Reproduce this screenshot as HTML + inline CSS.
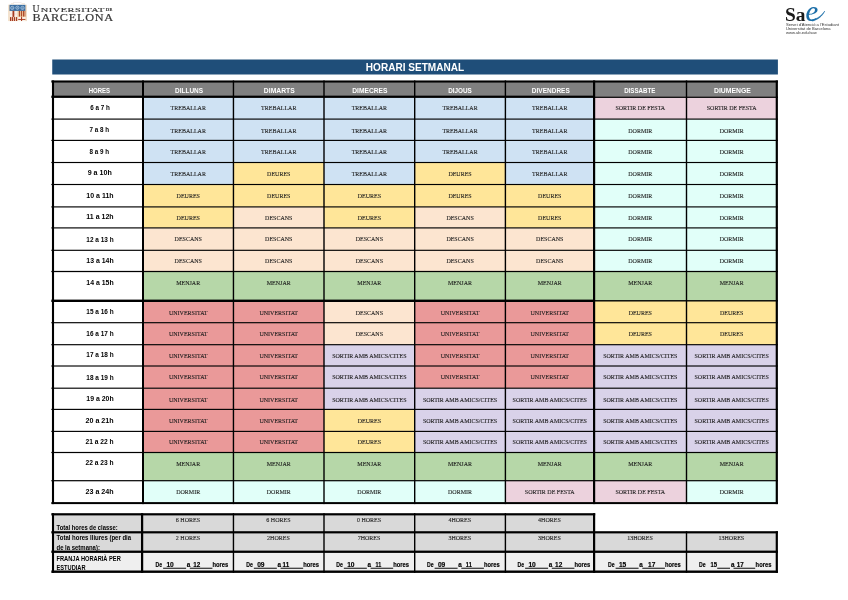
<!DOCTYPE html>
<html lang="ca"><head><meta charset="utf-8"><title>Horari setmanal</title>
<style>
html,body{margin:0;padding:0;background:#fff;}
body{width:848px;height:600px;overflow:hidden;font-family:"Liberation Sans",sans-serif;}
svg{display:block;}
text{text-anchor:middle;}
.ttl{font:bold 10.8px "Liberation Sans",sans-serif;fill:#fff;}
.hd{font:bold 6.7px "Liberation Sans",sans-serif;fill:#fff;}
.hr{font:bold 6.6px "Liberation Sans",sans-serif;fill:#000;}
.ce{font:6px "Liberation Serif",serif;fill:#1c1c1c;stroke:#1c1c1c;stroke-width:0.1px;}
.lb{font:bold 6.35px "Liberation Sans",sans-serif;fill:#000;}
.fr{font:bold 6.3px "Liberation Sans",sans-serif;fill:#000;stroke:#000;stroke-width:0.15px;}
.ub{font-family:"Liberation Serif",serif;fill:#383838;stroke:#383838;stroke-width:0.18px;}
.sa{font:bold 19.4px "Liberation Serif",serif;fill:#1a1a1a;}
.se{font:italic 28.5px "Liberation Serif",serif;fill:#1b6ea8;stroke:#1b6ea8;stroke-width:0.12px;}
.sm{font:3.4px "Liberation Sans",sans-serif;fill:#333;}
</style></head><body>
<svg width="848" height="600" viewBox="0 0 848 600">
<rect x="52.25" y="59.50" width="725.65" height="15.00" fill="#1f4e79"/>
<text x="415.00" y="71.00" class="ttl" textLength="98.40" lengthAdjust="spacingAndGlyphs">HORARI SETMANAL</text>
<rect x="53.00" y="81.50" width="723.80" height="15.25" fill="#808080"/>
<rect x="143.00" y="96.75" width="90.45" height="22.35" fill="#cfe2f3"/>
<rect x="233.45" y="96.75" width="90.55" height="22.35" fill="#cfe2f3"/>
<rect x="324.00" y="96.75" width="90.70" height="22.35" fill="#cfe2f3"/>
<rect x="414.70" y="96.75" width="90.70" height="22.35" fill="#cfe2f3"/>
<rect x="505.40" y="96.75" width="88.70" height="22.35" fill="#cfe2f3"/>
<rect x="594.10" y="96.75" width="92.40" height="22.35" fill="#ecd2dd"/>
<rect x="686.50" y="96.75" width="90.30" height="22.35" fill="#ecd2dd"/>
<rect x="143.00" y="119.10" width="90.45" height="21.30" fill="#cfe2f3"/>
<rect x="233.45" y="119.10" width="90.55" height="21.30" fill="#cfe2f3"/>
<rect x="324.00" y="119.10" width="90.70" height="21.30" fill="#cfe2f3"/>
<rect x="414.70" y="119.10" width="90.70" height="21.30" fill="#cfe2f3"/>
<rect x="505.40" y="119.10" width="88.70" height="21.30" fill="#cfe2f3"/>
<rect x="594.10" y="119.10" width="92.40" height="21.30" fill="#e1fff9"/>
<rect x="686.50" y="119.10" width="90.30" height="21.30" fill="#e1fff9"/>
<rect x="143.00" y="140.40" width="90.45" height="22.10" fill="#cfe2f3"/>
<rect x="233.45" y="140.40" width="90.55" height="22.10" fill="#cfe2f3"/>
<rect x="324.00" y="140.40" width="90.70" height="22.10" fill="#cfe2f3"/>
<rect x="414.70" y="140.40" width="90.70" height="22.10" fill="#cfe2f3"/>
<rect x="505.40" y="140.40" width="88.70" height="22.10" fill="#cfe2f3"/>
<rect x="594.10" y="140.40" width="92.40" height="22.10" fill="#e1fff9"/>
<rect x="686.50" y="140.40" width="90.30" height="22.10" fill="#e1fff9"/>
<rect x="143.00" y="162.50" width="90.45" height="22.00" fill="#cfe2f3"/>
<rect x="233.45" y="162.50" width="90.55" height="22.00" fill="#ffe699"/>
<rect x="324.00" y="162.50" width="90.70" height="22.00" fill="#cfe2f3"/>
<rect x="414.70" y="162.50" width="90.70" height="22.00" fill="#ffe699"/>
<rect x="505.40" y="162.50" width="88.70" height="22.00" fill="#cfe2f3"/>
<rect x="594.10" y="162.50" width="92.40" height="22.00" fill="#e1fff9"/>
<rect x="686.50" y="162.50" width="90.30" height="22.00" fill="#e1fff9"/>
<rect x="143.00" y="184.50" width="90.45" height="22.40" fill="#ffe699"/>
<rect x="233.45" y="184.50" width="90.55" height="22.40" fill="#ffe699"/>
<rect x="324.00" y="184.50" width="90.70" height="22.40" fill="#ffe699"/>
<rect x="414.70" y="184.50" width="90.70" height="22.40" fill="#ffe699"/>
<rect x="505.40" y="184.50" width="88.70" height="22.40" fill="#ffe699"/>
<rect x="594.10" y="184.50" width="92.40" height="22.40" fill="#e1fff9"/>
<rect x="686.50" y="184.50" width="90.30" height="22.40" fill="#e1fff9"/>
<rect x="143.00" y="206.90" width="90.45" height="21.00" fill="#ffe699"/>
<rect x="233.45" y="206.90" width="90.55" height="21.00" fill="#fce5d0"/>
<rect x="324.00" y="206.90" width="90.70" height="21.00" fill="#ffe699"/>
<rect x="414.70" y="206.90" width="90.70" height="21.00" fill="#fce5d0"/>
<rect x="505.40" y="206.90" width="88.70" height="21.00" fill="#ffe699"/>
<rect x="594.10" y="206.90" width="92.40" height="21.00" fill="#e1fff9"/>
<rect x="686.50" y="206.90" width="90.30" height="21.00" fill="#e1fff9"/>
<rect x="143.00" y="227.90" width="90.45" height="22.40" fill="#fce5d0"/>
<rect x="233.45" y="227.90" width="90.55" height="22.40" fill="#fce5d0"/>
<rect x="324.00" y="227.90" width="90.70" height="22.40" fill="#fce5d0"/>
<rect x="414.70" y="227.90" width="90.70" height="22.40" fill="#fce5d0"/>
<rect x="505.40" y="227.90" width="88.70" height="22.40" fill="#fce5d0"/>
<rect x="594.10" y="227.90" width="92.40" height="22.40" fill="#e1fff9"/>
<rect x="686.50" y="227.90" width="90.30" height="22.40" fill="#e1fff9"/>
<rect x="143.00" y="250.30" width="90.45" height="21.20" fill="#fce5d0"/>
<rect x="233.45" y="250.30" width="90.55" height="21.20" fill="#fce5d0"/>
<rect x="324.00" y="250.30" width="90.70" height="21.20" fill="#fce5d0"/>
<rect x="414.70" y="250.30" width="90.70" height="21.20" fill="#fce5d0"/>
<rect x="505.40" y="250.30" width="88.70" height="21.20" fill="#fce5d0"/>
<rect x="594.10" y="250.30" width="92.40" height="21.20" fill="#e1fff9"/>
<rect x="686.50" y="250.30" width="90.30" height="21.20" fill="#e1fff9"/>
<rect x="143.00" y="271.50" width="90.45" height="29.50" fill="#b6d7a8"/>
<rect x="233.45" y="271.50" width="90.55" height="29.50" fill="#b6d7a8"/>
<rect x="324.00" y="271.50" width="90.70" height="29.50" fill="#b6d7a8"/>
<rect x="414.70" y="271.50" width="90.70" height="29.50" fill="#b6d7a8"/>
<rect x="505.40" y="271.50" width="88.70" height="29.50" fill="#b6d7a8"/>
<rect x="594.10" y="271.50" width="92.40" height="29.50" fill="#b6d7a8"/>
<rect x="686.50" y="271.50" width="90.30" height="29.50" fill="#b6d7a8"/>
<rect x="143.00" y="301.00" width="90.45" height="21.70" fill="#ea9999"/>
<rect x="233.45" y="301.00" width="90.55" height="21.70" fill="#ea9999"/>
<rect x="324.00" y="301.00" width="90.70" height="21.70" fill="#fce5d0"/>
<rect x="414.70" y="301.00" width="90.70" height="21.70" fill="#ea9999"/>
<rect x="505.40" y="301.00" width="88.70" height="21.70" fill="#ea9999"/>
<rect x="594.10" y="301.00" width="92.40" height="21.70" fill="#ffe699"/>
<rect x="686.50" y="301.00" width="90.30" height="21.70" fill="#ffe699"/>
<rect x="143.00" y="322.70" width="90.45" height="22.00" fill="#ea9999"/>
<rect x="233.45" y="322.70" width="90.55" height="22.00" fill="#ea9999"/>
<rect x="324.00" y="322.70" width="90.70" height="22.00" fill="#fce5d0"/>
<rect x="414.70" y="322.70" width="90.70" height="22.00" fill="#ea9999"/>
<rect x="505.40" y="322.70" width="88.70" height="22.00" fill="#ea9999"/>
<rect x="594.10" y="322.70" width="92.40" height="22.00" fill="#ffe699"/>
<rect x="686.50" y="322.70" width="90.30" height="22.00" fill="#ffe699"/>
<rect x="143.00" y="344.70" width="90.45" height="21.30" fill="#ea9999"/>
<rect x="233.45" y="344.70" width="90.55" height="21.30" fill="#ea9999"/>
<rect x="324.00" y="344.70" width="90.70" height="21.30" fill="#d9d2e9"/>
<rect x="414.70" y="344.70" width="90.70" height="21.30" fill="#ea9999"/>
<rect x="505.40" y="344.70" width="88.70" height="21.30" fill="#ea9999"/>
<rect x="594.10" y="344.70" width="92.40" height="21.30" fill="#d9d2e9"/>
<rect x="686.50" y="344.70" width="90.30" height="21.30" fill="#d9d2e9"/>
<rect x="143.00" y="366.00" width="90.45" height="22.20" fill="#ea9999"/>
<rect x="233.45" y="366.00" width="90.55" height="22.20" fill="#ea9999"/>
<rect x="324.00" y="366.00" width="90.70" height="22.20" fill="#d9d2e9"/>
<rect x="414.70" y="366.00" width="90.70" height="22.20" fill="#ea9999"/>
<rect x="505.40" y="366.00" width="88.70" height="22.20" fill="#ea9999"/>
<rect x="594.10" y="366.00" width="92.40" height="22.20" fill="#d9d2e9"/>
<rect x="686.50" y="366.00" width="90.30" height="22.20" fill="#d9d2e9"/>
<rect x="143.00" y="388.20" width="90.45" height="21.20" fill="#ea9999"/>
<rect x="233.45" y="388.20" width="90.55" height="21.20" fill="#ea9999"/>
<rect x="324.00" y="388.20" width="90.70" height="21.20" fill="#d9d2e9"/>
<rect x="414.70" y="388.20" width="90.70" height="21.20" fill="#d9d2e9"/>
<rect x="505.40" y="388.20" width="88.70" height="21.20" fill="#d9d2e9"/>
<rect x="594.10" y="388.20" width="92.40" height="21.20" fill="#d9d2e9"/>
<rect x="686.50" y="388.20" width="90.30" height="21.20" fill="#d9d2e9"/>
<rect x="143.00" y="409.40" width="90.45" height="22.00" fill="#ea9999"/>
<rect x="233.45" y="409.40" width="90.55" height="22.00" fill="#ea9999"/>
<rect x="324.00" y="409.40" width="90.70" height="22.00" fill="#ffe699"/>
<rect x="414.70" y="409.40" width="90.70" height="22.00" fill="#d9d2e9"/>
<rect x="505.40" y="409.40" width="88.70" height="22.00" fill="#d9d2e9"/>
<rect x="594.10" y="409.40" width="92.40" height="22.00" fill="#d9d2e9"/>
<rect x="686.50" y="409.40" width="90.30" height="22.00" fill="#d9d2e9"/>
<rect x="143.00" y="431.40" width="90.45" height="21.10" fill="#ea9999"/>
<rect x="233.45" y="431.40" width="90.55" height="21.10" fill="#ea9999"/>
<rect x="324.00" y="431.40" width="90.70" height="21.10" fill="#ffe699"/>
<rect x="414.70" y="431.40" width="90.70" height="21.10" fill="#d9d2e9"/>
<rect x="505.40" y="431.40" width="88.70" height="21.10" fill="#d9d2e9"/>
<rect x="594.10" y="431.40" width="92.40" height="21.10" fill="#d9d2e9"/>
<rect x="686.50" y="431.40" width="90.30" height="21.10" fill="#d9d2e9"/>
<rect x="143.00" y="452.50" width="90.45" height="28.20" fill="#b6d7a8"/>
<rect x="233.45" y="452.50" width="90.55" height="28.20" fill="#b6d7a8"/>
<rect x="324.00" y="452.50" width="90.70" height="28.20" fill="#b6d7a8"/>
<rect x="414.70" y="452.50" width="90.70" height="28.20" fill="#b6d7a8"/>
<rect x="505.40" y="452.50" width="88.70" height="28.20" fill="#b6d7a8"/>
<rect x="594.10" y="452.50" width="92.40" height="28.20" fill="#b6d7a8"/>
<rect x="686.50" y="452.50" width="90.30" height="28.20" fill="#b6d7a8"/>
<rect x="143.00" y="480.70" width="90.45" height="22.40" fill="#e1fff9"/>
<rect x="233.45" y="480.70" width="90.55" height="22.40" fill="#e1fff9"/>
<rect x="324.00" y="480.70" width="90.70" height="22.40" fill="#e1fff9"/>
<rect x="414.70" y="480.70" width="90.70" height="22.40" fill="#e1fff9"/>
<rect x="505.40" y="480.70" width="88.70" height="22.40" fill="#ecd2dd"/>
<rect x="594.10" y="480.70" width="92.40" height="22.40" fill="#ecd2dd"/>
<rect x="686.50" y="480.70" width="90.30" height="22.40" fill="#e1fff9"/>
<rect x="53.00" y="514.30" width="541.10" height="18.00" fill="#d9d9d9"/>
<rect x="53.00" y="532.30" width="723.80" height="19.45" fill="#d9d9d9"/>
<rect x="53.00" y="551.75" width="723.80" height="19.95" fill="#efefef"/>
<rect x="51.35" y="80.45" width="726.55" height="2.10" fill="#000"/>
<rect x="51.35" y="95.65" width="542.75" height="2.25" fill="#000"/>
<rect x="594.10" y="96.50" width="183.80" height="1.40" fill="#000"/>
<rect x="51.35" y="118.52" width="726.55" height="1.15" fill="#000"/>
<rect x="51.35" y="139.83" width="726.55" height="1.15" fill="#000"/>
<rect x="51.35" y="161.93" width="726.55" height="1.15" fill="#000"/>
<rect x="51.35" y="183.93" width="726.55" height="1.15" fill="#000"/>
<rect x="51.35" y="206.33" width="726.55" height="1.15" fill="#000"/>
<rect x="51.35" y="227.33" width="726.55" height="1.15" fill="#000"/>
<rect x="51.35" y="249.73" width="726.55" height="1.15" fill="#000"/>
<rect x="51.35" y="270.88" width="726.55" height="1.25" fill="#000"/>
<rect x="51.35" y="299.60" width="542.75" height="2.40" fill="#000"/>
<rect x="594.10" y="300.10" width="183.80" height="1.40" fill="#000"/>
<rect x="51.35" y="322.12" width="726.55" height="1.15" fill="#000"/>
<rect x="51.35" y="344.12" width="726.55" height="1.15" fill="#000"/>
<rect x="51.35" y="365.43" width="726.55" height="1.15" fill="#000"/>
<rect x="51.35" y="387.62" width="726.55" height="1.15" fill="#000"/>
<rect x="51.35" y="408.82" width="726.55" height="1.15" fill="#000"/>
<rect x="51.35" y="430.82" width="726.55" height="1.15" fill="#000"/>
<rect x="51.35" y="451.90" width="726.55" height="1.20" fill="#000"/>
<rect x="51.35" y="480.10" width="726.55" height="1.20" fill="#000"/>
<rect x="51.35" y="502.10" width="726.55" height="2.00" fill="#000"/>
<rect x="51.95" y="80.45" width="2.10" height="423.65" fill="#000"/>
<rect x="142.00" y="80.45" width="2.00" height="423.65" fill="#000"/>
<rect x="232.75" y="80.45" width="1.40" height="423.65" fill="#000"/>
<rect x="323.30" y="80.45" width="1.40" height="423.65" fill="#000"/>
<rect x="414.00" y="80.45" width="1.40" height="423.65" fill="#000"/>
<rect x="504.70" y="80.45" width="1.40" height="423.65" fill="#000"/>
<rect x="593.00" y="80.45" width="2.20" height="423.65" fill="#000"/>
<rect x="685.80" y="80.45" width="1.40" height="423.65" fill="#000"/>
<rect x="775.70" y="80.45" width="2.20" height="423.65" fill="#000"/>
<rect x="51.35" y="513.20" width="543.85" height="2.20" fill="#000"/>
<rect x="51.35" y="531.20" width="726.55" height="2.20" fill="#000"/>
<rect x="51.35" y="550.60" width="726.55" height="2.30" fill="#000"/>
<rect x="51.35" y="570.50" width="726.55" height="2.40" fill="#000"/>
<rect x="51.95" y="513.20" width="2.10" height="59.70" fill="#000"/>
<rect x="140.97" y="513.20" width="2.25" height="59.70" fill="#000"/>
<rect x="232.75" y="513.20" width="1.40" height="59.70" fill="#000"/>
<rect x="323.30" y="513.20" width="1.40" height="59.70" fill="#000"/>
<rect x="414.00" y="513.20" width="1.40" height="59.70" fill="#000"/>
<rect x="504.70" y="513.20" width="1.40" height="59.70" fill="#000"/>
<rect x="593.00" y="513.20" width="2.20" height="59.70" fill="#000"/>
<rect x="685.80" y="531.20" width="1.40" height="41.70" fill="#000"/>
<rect x="775.70" y="531.20" width="2.20" height="41.70" fill="#000"/>
<text x="99.40" y="92.90" class="hd" textLength="21.50" lengthAdjust="spacingAndGlyphs">HORES</text>
<text x="189.10" y="92.90" class="hd" textLength="28.00" lengthAdjust="spacingAndGlyphs">DILLUNS</text>
<text x="279.30" y="92.90" class="hd" textLength="30.90" lengthAdjust="spacingAndGlyphs">DIMARTS</text>
<text x="369.90" y="92.90" class="hd" textLength="35.25" lengthAdjust="spacingAndGlyphs">DIMECRES</text>
<text x="460.00" y="92.90" class="hd" textLength="23.75" lengthAdjust="spacingAndGlyphs">DIJOUS</text>
<text x="550.80" y="92.90" class="hd" textLength="37.90" lengthAdjust="spacingAndGlyphs">DIVENDRES</text>
<text x="639.75" y="92.90" class="hd" textLength="31.25" lengthAdjust="spacingAndGlyphs">DISSABTE</text>
<text x="732.40" y="92.90" class="hd" textLength="36.90" lengthAdjust="spacingAndGlyphs">DIUMENGE</text>
<text x="100.10" y="109.86" class="hr" textLength="19.50" lengthAdjust="spacingAndGlyphs">6 a 7 h</text>
<text x="188.22" y="110.40" class="ce">TREBALLAR</text>
<text x="278.73" y="110.40" class="ce">TREBALLAR</text>
<text x="369.35" y="110.40" class="ce">TREBALLAR</text>
<text x="460.05" y="110.40" class="ce">TREBALLAR</text>
<text x="549.75" y="110.40" class="ce">TREBALLAR</text>
<text x="640.30" y="110.40" class="ce">SORTIR DE FESTA</text>
<text x="731.65" y="110.40" class="ce">SORTIR DE FESTA</text>
<text x="99.25" y="131.86" class="hr" textLength="19.50" lengthAdjust="spacingAndGlyphs">7 a 8 h</text>
<text x="188.22" y="132.80" class="ce">TREBALLAR</text>
<text x="278.73" y="132.80" class="ce">TREBALLAR</text>
<text x="369.35" y="132.80" class="ce">TREBALLAR</text>
<text x="460.05" y="132.80" class="ce">TREBALLAR</text>
<text x="549.75" y="132.80" class="ce">TREBALLAR</text>
<text x="640.30" y="132.80" class="ce">DORMIR</text>
<text x="731.65" y="132.80" class="ce">DORMIR</text>
<text x="99.25" y="153.96" class="hr" textLength="19.50" lengthAdjust="spacingAndGlyphs">8 a 9 h</text>
<text x="188.22" y="154.05" class="ce">TREBALLAR</text>
<text x="278.73" y="154.05" class="ce">TREBALLAR</text>
<text x="369.35" y="154.05" class="ce">TREBALLAR</text>
<text x="460.05" y="154.05" class="ce">TREBALLAR</text>
<text x="549.75" y="154.05" class="ce">TREBALLAR</text>
<text x="640.30" y="154.05" class="ce">DORMIR</text>
<text x="731.65" y="154.05" class="ce">DORMIR</text>
<text x="99.70" y="174.96" class="hr" textLength="24.10" lengthAdjust="spacingAndGlyphs">9 a 10h</text>
<text x="188.22" y="175.70" class="ce">TREBALLAR</text>
<text x="278.73" y="175.70" class="ce">DEURES</text>
<text x="369.35" y="175.70" class="ce">TREBALLAR</text>
<text x="460.05" y="175.70" class="ce">DEURES</text>
<text x="549.75" y="175.70" class="ce">TREBALLAR</text>
<text x="640.30" y="175.70" class="ce">DORMIR</text>
<text x="731.65" y="175.70" class="ce">DORMIR</text>
<text x="100.00" y="198.06" class="hr" textLength="27.30" lengthAdjust="spacingAndGlyphs">10 a 11h</text>
<text x="188.22" y="198.05" class="ce">DEURES</text>
<text x="278.73" y="198.05" class="ce">DEURES</text>
<text x="369.35" y="198.05" class="ce">DEURES</text>
<text x="460.05" y="198.05" class="ce">DEURES</text>
<text x="549.75" y="198.05" class="ce">DEURES</text>
<text x="640.30" y="198.05" class="ce">DORMIR</text>
<text x="731.65" y="198.05" class="ce">DORMIR</text>
<text x="100.00" y="219.36" class="hr" textLength="27.30" lengthAdjust="spacingAndGlyphs">11 a 12h</text>
<text x="188.22" y="220.30" class="ce">DEURES</text>
<text x="278.73" y="220.30" class="ce">DESCANS</text>
<text x="369.35" y="220.30" class="ce">DEURES</text>
<text x="460.05" y="220.30" class="ce">DESCANS</text>
<text x="549.75" y="220.30" class="ce">DEURES</text>
<text x="640.30" y="220.30" class="ce">DORMIR</text>
<text x="731.65" y="220.30" class="ce">DORMIR</text>
<text x="100.00" y="241.66" class="hr" textLength="27.30" lengthAdjust="spacingAndGlyphs">12 a 13 h</text>
<text x="188.22" y="241.40" class="ce">DESCANS</text>
<text x="278.73" y="241.40" class="ce">DESCANS</text>
<text x="369.35" y="241.40" class="ce">DESCANS</text>
<text x="460.05" y="241.40" class="ce">DESCANS</text>
<text x="549.75" y="241.40" class="ce">DESCANS</text>
<text x="640.30" y="241.40" class="ce">DORMIR</text>
<text x="731.65" y="241.40" class="ce">DORMIR</text>
<text x="100.00" y="262.76" class="hr" textLength="27.30" lengthAdjust="spacingAndGlyphs">13 a 14h</text>
<text x="188.22" y="262.55" class="ce">DESCANS</text>
<text x="278.73" y="262.55" class="ce">DESCANS</text>
<text x="369.35" y="262.55" class="ce">DESCANS</text>
<text x="460.05" y="262.55" class="ce">DESCANS</text>
<text x="549.75" y="262.55" class="ce">DESCANS</text>
<text x="640.30" y="262.55" class="ce">DORMIR</text>
<text x="731.65" y="262.55" class="ce">DORMIR</text>
<text x="100.00" y="284.86" class="hr" textLength="27.30" lengthAdjust="spacingAndGlyphs">14 a 15h</text>
<text x="188.22" y="284.70" class="ce">MENJAR</text>
<text x="278.73" y="284.70" class="ce">MENJAR</text>
<text x="369.35" y="284.70" class="ce">MENJAR</text>
<text x="460.05" y="284.70" class="ce">MENJAR</text>
<text x="549.75" y="284.70" class="ce">MENJAR</text>
<text x="640.30" y="284.70" class="ce">MENJAR</text>
<text x="731.65" y="284.70" class="ce">MENJAR</text>
<text x="100.00" y="313.96" class="hr" textLength="27.30" lengthAdjust="spacingAndGlyphs">15 a 16 h</text>
<text x="188.22" y="314.90" class="ce">UNIVERSITAT</text>
<text x="278.73" y="314.90" class="ce">UNIVERSITAT</text>
<text x="369.35" y="314.90" class="ce">DESCANS</text>
<text x="460.05" y="314.90" class="ce">UNIVERSITAT</text>
<text x="549.75" y="314.90" class="ce">UNIVERSITAT</text>
<text x="640.30" y="314.90" class="ce">DEURES</text>
<text x="731.65" y="314.90" class="ce">DEURES</text>
<text x="100.00" y="336.06" class="hr" textLength="27.30" lengthAdjust="spacingAndGlyphs">16 a 17 h</text>
<text x="188.22" y="335.90" class="ce">UNIVERSITAT</text>
<text x="278.73" y="335.90" class="ce">UNIVERSITAT</text>
<text x="369.35" y="335.90" class="ce">DESCANS</text>
<text x="460.05" y="335.90" class="ce">UNIVERSITAT</text>
<text x="549.75" y="335.90" class="ce">UNIVERSITAT</text>
<text x="640.30" y="335.90" class="ce">DEURES</text>
<text x="731.65" y="335.90" class="ce">DEURES</text>
<text x="100.00" y="357.36" class="hr" textLength="27.30" lengthAdjust="spacingAndGlyphs">17 a 18 h</text>
<text x="188.22" y="357.90" class="ce">UNIVERSITAT</text>
<text x="278.73" y="357.90" class="ce">UNIVERSITAT</text>
<text x="369.35" y="357.90" class="ce">SORTIR AMB AMICS/CITES</text>
<text x="460.05" y="357.90" class="ce">UNIVERSITAT</text>
<text x="549.75" y="357.90" class="ce">UNIVERSITAT</text>
<text x="640.30" y="357.90" class="ce">SORTIR AMB AMICS/CITES</text>
<text x="731.65" y="357.90" class="ce">SORTIR AMB AMICS/CITES</text>
<text x="100.00" y="379.66" class="hr" textLength="27.30" lengthAdjust="spacingAndGlyphs">18 a 19 h</text>
<text x="188.22" y="379.30" class="ce">UNIVERSITAT</text>
<text x="278.73" y="379.30" class="ce">UNIVERSITAT</text>
<text x="369.35" y="379.30" class="ce">SORTIR AMB AMICS/CITES</text>
<text x="460.05" y="379.30" class="ce">UNIVERSITAT</text>
<text x="549.75" y="379.30" class="ce">UNIVERSITAT</text>
<text x="640.30" y="379.30" class="ce">SORTIR AMB AMICS/CITES</text>
<text x="731.65" y="379.30" class="ce">SORTIR AMB AMICS/CITES</text>
<text x="100.00" y="400.76" class="hr" textLength="27.30" lengthAdjust="spacingAndGlyphs">19 a 20h</text>
<text x="188.22" y="401.55" class="ce">UNIVERSITAT</text>
<text x="278.73" y="401.55" class="ce">UNIVERSITAT</text>
<text x="369.35" y="401.55" class="ce">SORTIR AMB AMICS/CITES</text>
<text x="460.05" y="401.55" class="ce">SORTIR AMB AMICS/CITES</text>
<text x="549.75" y="401.55" class="ce">SORTIR AMB AMICS/CITES</text>
<text x="640.30" y="401.55" class="ce">SORTIR AMB AMICS/CITES</text>
<text x="731.65" y="401.55" class="ce">SORTIR AMB AMICS/CITES</text>
<text x="99.58" y="422.76" class="hr" textLength="28.15" lengthAdjust="spacingAndGlyphs">20 a 21h</text>
<text x="188.22" y="422.65" class="ce">UNIVERSITAT</text>
<text x="278.73" y="422.65" class="ce">UNIVERSITAT</text>
<text x="369.35" y="422.65" class="ce">DEURES</text>
<text x="460.05" y="422.65" class="ce">SORTIR AMB AMICS/CITES</text>
<text x="549.75" y="422.65" class="ce">SORTIR AMB AMICS/CITES</text>
<text x="640.30" y="422.65" class="ce">SORTIR AMB AMICS/CITES</text>
<text x="731.65" y="422.65" class="ce">SORTIR AMB AMICS/CITES</text>
<text x="99.58" y="443.96" class="hr" textLength="28.15" lengthAdjust="spacingAndGlyphs">21 a 22 h</text>
<text x="188.22" y="443.90" class="ce">UNIVERSITAT</text>
<text x="278.73" y="443.90" class="ce">UNIVERSITAT</text>
<text x="369.35" y="443.90" class="ce">DEURES</text>
<text x="460.05" y="443.90" class="ce">SORTIR AMB AMICS/CITES</text>
<text x="549.75" y="443.90" class="ce">SORTIR AMB AMICS/CITES</text>
<text x="640.30" y="443.90" class="ce">SORTIR AMB AMICS/CITES</text>
<text x="731.65" y="443.90" class="ce">SORTIR AMB AMICS/CITES</text>
<text x="99.58" y="464.91" class="hr" textLength="28.15" lengthAdjust="spacingAndGlyphs">22 a 23 h</text>
<text x="188.22" y="465.70" class="ce">MENJAR</text>
<text x="278.73" y="465.70" class="ce">MENJAR</text>
<text x="369.35" y="465.70" class="ce">MENJAR</text>
<text x="460.05" y="465.70" class="ce">MENJAR</text>
<text x="549.75" y="465.70" class="ce">MENJAR</text>
<text x="640.30" y="465.70" class="ce">MENJAR</text>
<text x="731.65" y="465.70" class="ce">MENJAR</text>
<text x="99.58" y="494.06" class="hr" textLength="28.15" lengthAdjust="spacingAndGlyphs">23 a 24h</text>
<text x="188.22" y="494.05" class="ce">DORMIR</text>
<text x="278.73" y="494.05" class="ce">DORMIR</text>
<text x="369.35" y="494.05" class="ce">DORMIR</text>
<text x="460.05" y="494.05" class="ce">DORMIR</text>
<text x="549.75" y="494.05" class="ce">SORTIR DE FESTA</text>
<text x="640.30" y="494.05" class="ce">SORTIR DE FESTA</text>
<text x="731.65" y="494.05" class="ce">DORMIR</text>
<text x="56.50" y="529.60" class="lb" textLength="61.25" lengthAdjust="spacingAndGlyphs" style="text-anchor:start">Total hores de classe:</text>
<text x="56.50" y="540.40" class="lb" textLength="74.60" lengthAdjust="spacingAndGlyphs" style="text-anchor:start">Total hores lliures (per dia</text>
<text x="56.50" y="549.50" class="lb" textLength="43.40" lengthAdjust="spacingAndGlyphs" style="text-anchor:start">de la setmana):</text>
<text x="56.50" y="561.10" class="lb" textLength="64.25" lengthAdjust="spacingAndGlyphs" style="text-anchor:start">FRANJA HORARIÀ PER</text>
<text x="56.50" y="569.90" class="lb" textLength="29.00" lengthAdjust="spacingAndGlyphs" style="text-anchor:start">ESTUDIAR</text>
<text x="187.92" y="521.57" class="ce">6 HORES</text>
<text x="278.43" y="521.57" class="ce">6 HORES</text>
<text x="369.05" y="521.57" class="ce">0 HORES</text>
<text x="459.75" y="521.57" class="ce">4HORES</text>
<text x="549.45" y="521.57" class="ce">4HORES</text>
<text x="187.92" y="539.57" class="ce">2 HORES</text>
<text x="278.43" y="539.57" class="ce">2HORES</text>
<text x="369.05" y="539.57" class="ce">7HORES</text>
<text x="459.75" y="539.57" class="ce">3HORES</text>
<text x="549.45" y="539.57" class="ce">3HORES</text>
<text x="640.00" y="539.57" class="ce">13HORES</text>
<text x="731.35" y="539.57" class="ce">13HORES</text>
<text x="155.50" y="567.00" class="fr" textLength="6.60" lengthAdjust="spacingAndGlyphs" style="text-anchor:start">De</text>
<rect x="163.10" y="567.75" width="23.00" height="0.95" fill="#000"/>
<text x="166.40" y="567.00" class="fr" textLength="7.40" lengthAdjust="spacingAndGlyphs" style="text-anchor:start">10</text>
<text x="186.80" y="567.00" class="fr" style="text-anchor:start">a</text>
<rect x="189.80" y="567.75" width="22.60" height="0.95" fill="#000"/>
<text x="193.30" y="567.00" class="fr" textLength="7.00" lengthAdjust="spacingAndGlyphs" style="text-anchor:start">12</text>
<text x="212.50" y="567.00" class="fr" textLength="15.80" lengthAdjust="spacingAndGlyphs" style="text-anchor:start">hores</text>
<text x="246.25" y="567.00" class="fr" textLength="6.60" lengthAdjust="spacingAndGlyphs" style="text-anchor:start">De</text>
<rect x="253.85" y="567.75" width="23.00" height="0.95" fill="#000"/>
<text x="257.15" y="567.00" class="fr" textLength="7.40" lengthAdjust="spacingAndGlyphs" style="text-anchor:start">09</text>
<text x="277.55" y="567.00" class="fr" style="text-anchor:start">a</text>
<rect x="280.55" y="567.75" width="22.60" height="0.95" fill="#000"/>
<text x="282.55" y="567.00" class="fr" textLength="6.60" lengthAdjust="spacingAndGlyphs" style="text-anchor:start">11</text>
<text x="303.25" y="567.00" class="fr" textLength="15.80" lengthAdjust="spacingAndGlyphs" style="text-anchor:start">hores</text>
<text x="336.25" y="567.00" class="fr" textLength="6.60" lengthAdjust="spacingAndGlyphs" style="text-anchor:start">De</text>
<rect x="343.85" y="567.75" width="23.00" height="0.95" fill="#000"/>
<text x="347.15" y="567.00" class="fr" textLength="7.40" lengthAdjust="spacingAndGlyphs" style="text-anchor:start">10</text>
<text x="367.55" y="567.00" class="fr" style="text-anchor:start">a</text>
<rect x="370.55" y="567.75" width="22.60" height="0.95" fill="#000"/>
<text x="375.45" y="567.00" class="fr" textLength="5.80" lengthAdjust="spacingAndGlyphs" style="text-anchor:start">11</text>
<text x="393.25" y="567.00" class="fr" textLength="15.80" lengthAdjust="spacingAndGlyphs" style="text-anchor:start">hores</text>
<text x="427.00" y="567.00" class="fr" textLength="6.60" lengthAdjust="spacingAndGlyphs" style="text-anchor:start">De</text>
<rect x="434.60" y="567.75" width="23.00" height="0.95" fill="#000"/>
<text x="437.90" y="567.00" class="fr" textLength="7.40" lengthAdjust="spacingAndGlyphs" style="text-anchor:start">09</text>
<text x="458.30" y="567.00" class="fr" style="text-anchor:start">a</text>
<rect x="461.30" y="567.75" width="22.60" height="0.95" fill="#000"/>
<text x="465.80" y="567.00" class="fr" textLength="6.00" lengthAdjust="spacingAndGlyphs" style="text-anchor:start">11</text>
<text x="484.00" y="567.00" class="fr" textLength="15.80" lengthAdjust="spacingAndGlyphs" style="text-anchor:start">hores</text>
<text x="517.50" y="567.00" class="fr" textLength="6.60" lengthAdjust="spacingAndGlyphs" style="text-anchor:start">De</text>
<rect x="525.10" y="567.75" width="23.00" height="0.95" fill="#000"/>
<text x="528.40" y="567.00" class="fr" textLength="7.40" lengthAdjust="spacingAndGlyphs" style="text-anchor:start">10</text>
<text x="548.80" y="567.00" class="fr" style="text-anchor:start">a</text>
<rect x="551.80" y="567.75" width="22.60" height="0.95" fill="#000"/>
<text x="555.10" y="567.00" class="fr" textLength="7.20" lengthAdjust="spacingAndGlyphs" style="text-anchor:start">12</text>
<text x="574.50" y="567.00" class="fr" textLength="15.80" lengthAdjust="spacingAndGlyphs" style="text-anchor:start">hores</text>
<text x="608.00" y="567.00" class="fr" textLength="6.60" lengthAdjust="spacingAndGlyphs" style="text-anchor:start">De</text>
<rect x="615.60" y="567.75" width="23.00" height="0.95" fill="#000"/>
<text x="618.90" y="567.00" class="fr" textLength="7.40" lengthAdjust="spacingAndGlyphs" style="text-anchor:start">15</text>
<text x="639.30" y="567.00" class="fr" style="text-anchor:start">a</text>
<rect x="642.30" y="567.75" width="22.60" height="0.95" fill="#000"/>
<text x="648.00" y="567.00" class="fr" textLength="7.30" lengthAdjust="spacingAndGlyphs" style="text-anchor:start">17</text>
<text x="665.00" y="567.00" class="fr" textLength="15.80" lengthAdjust="spacingAndGlyphs" style="text-anchor:start">hores</text>
<text x="699.00" y="567.00" class="fr" textLength="6.60" lengthAdjust="spacingAndGlyphs" style="text-anchor:start">De</text>
<text x="710.50" y="567.00" class="fr" textLength="6.60" lengthAdjust="spacingAndGlyphs" style="text-anchor:start">15</text>
<rect x="717.20" y="567.75" width="12.80" height="0.95" fill="#000"/>
<text x="731.00" y="567.00" class="fr" style="text-anchor:start">a</text>
<rect x="733.50" y="567.75" width="21.70" height="0.95" fill="#000"/>
<text x="736.75" y="567.00" class="fr" textLength="7.00" lengthAdjust="spacingAndGlyphs" style="text-anchor:start">17</text>
<text x="755.60" y="567.00" class="fr" textLength="15.80" lengthAdjust="spacingAndGlyphs" style="text-anchor:start">hores</text>
<g id="ub">
<rect x="8.20" y="4.70" width="18.70" height="16.40" fill="#f1dcc4"/>
<rect x="13.00" y="2.30" width="8.50" height="0.70" fill="#ece6e6"/>
<rect x="11.00" y="3.30" width="3.00" height="0.70" fill="#f3e3d3"/>
<rect x="21.50" y="3.30" width="3.50" height="0.70" fill="#f3e3d3"/>
<rect x="9.50" y="4.85" width="15.90" height="6.05" fill="#3b6fa2"/>
<circle cx="12.3" cy="7.9" r="1.6" fill="none" stroke="#a9c3dc" stroke-width="0.9"/>
<circle cx="12.3" cy="7.9" r="0.5" fill="#c9d9e8"/>
<circle cx="17.4" cy="7.7" r="1.6" fill="none" stroke="#a9c3dc" stroke-width="0.9"/>
<circle cx="17.4" cy="7.7" r="0.5" fill="#c9d9e8"/>
<circle cx="22.5" cy="7.9" r="1.6" fill="none" stroke="#a9c3dc" stroke-width="0.9"/>
<circle cx="22.5" cy="7.9" r="0.5" fill="#c9d9e8"/>
<rect x="9.70" y="11.25" width="7.30" height="5.50" fill="#fbf1e8"/>
<rect x="9.70" y="13.70" width="7.30" height="0.60" fill="#f3cfc4"/>
<rect x="12.50" y="10.90" width="1.80" height="6.00" fill="#a63a20"/>
<rect x="18.10" y="11.00" width="7.30" height="5.75" fill="#f9dcae"/>
<rect x="18.80" y="10.90" width="1.10" height="5.70" fill="#a63a20"/>
<rect x="20.80" y="10.90" width="1.10" height="5.70" fill="#a63a20"/>
<rect x="22.80" y="10.90" width="1.10" height="5.70" fill="#a63a20"/>
<rect x="24.55" y="10.90" width="0.80" height="5.70" fill="#a63a20"/>
<rect x="9.70" y="17.10" width="7.30" height="3.90" fill="#f6e3d0"/>
<rect x="10.00" y="17.10" width="1.20" height="3.90" fill="#a63a20"/>
<rect x="11.85" y="17.10" width="1.20" height="3.90" fill="#a63a20"/>
<rect x="13.85" y="17.10" width="1.20" height="3.90" fill="#a63a20"/>
<rect x="15.90" y="17.10" width="1.20" height="3.90" fill="#a63a20"/>
<rect x="18.10" y="17.10" width="7.30" height="3.90" fill="#fbf1e8"/>
<rect x="21.00" y="17.10" width="1.10" height="3.90" fill="#a63a20"/>
<rect x="18.20" y="18.95" width="7.20" height="0.95" fill="#a63a20"/>
</g>
<text x="32.6" y="11.95" class="ub" style="text-anchor:start" font-size="9.6" textLength="7.0" lengthAdjust="spacingAndGlyphs">U</text>
<text x="40.8" y="11.95" class="ub" style="text-anchor:start" font-size="7.1" textLength="64.0" lengthAdjust="spacingAndGlyphs" letter-spacing="0.35">NIVERSITAT</text>
<text x="105.7" y="10.9" class="ub" style="text-anchor:start" font-size="3" textLength="7.0" lengthAdjust="spacingAndGlyphs" letter-spacing="0.3">DE</text>
<text x="32.5" y="20.85" class="ub" style="text-anchor:start" font-size="9.9" textLength="81.4" lengthAdjust="spacingAndGlyphs" letter-spacing="0.6">BARCELONA</text>
<text x="784.9" y="20.8" class="sa" style="text-anchor:start">Sa</text>
<text x="805.6" y="20.95" class="se" style="text-anchor:start">e</text>
<path d="M811.6 20.3 C817.3 19.0 822 15.2 824.8 11.0 C822.6 15.8 818 19.9 812.0 21.1 Z" fill="#1b6ea8" stroke="#1b6ea8" stroke-width="0.5"/>
<text x="785.90" y="26.00" class="sm" textLength="53.00" lengthAdjust="spacingAndGlyphs" style="text-anchor:start">Servei d'Atenció a l'Estudiant</text>
<text x="785.90" y="29.90" class="sm" textLength="44.70" lengthAdjust="spacingAndGlyphs" style="text-anchor:start">Universitat de Barcelona</text>
<text x="785.90" y="33.70" class="sm" textLength="31.00" lengthAdjust="spacingAndGlyphs" style="text-anchor:start">www.ub.edu/sae</text>
</svg>
</body></html>
